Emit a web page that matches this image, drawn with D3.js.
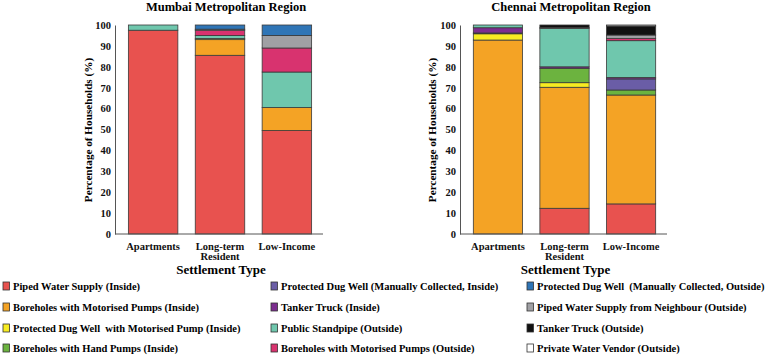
<!DOCTYPE html>
<html>
<head>
<meta charset="utf-8">
<script src="https://cdn.jsdelivr.net/npm/d3@7"></script>
<style>
  body { margin: 0; background: #fff; }
  svg { font-family: "Liberation Serif", "Times New Roman", serif; font-weight: bold; }
</style>
</head>
<body>
<svg id="chart" width="766" height="356"></svg>
<script>
const categories = ['Apartments', 'Long-term Resident', 'Low-Income']

const sources = [
    'Piped Water Supply (Inside)',
    'Boreholes with Motorised Pumps (Inside)',
    'Protected Dug Well  with Motorised Pump (Inside)',
    'Boreholes with Hand Pumps (Inside)',
    'Protected Dug Well (Manually Collected, Inside)',
    'Tanker Truck (Inside)',
    'Public Standpipe (Outside)',
    'Boreholes with Motorised Pumps (Outside)',
    'Protected Dug Well  (Manually Collected, Outside)',
    'Piped Water Supply from Neighbour (Outside)',
    'Tanker Truck (Outside)',
    'Private Water Vendor (Outside)'
]

const colours = [
    '#e8524f', '#f4a325', '#f7ec22', '#6cb33f', '#6a5da6', '#7c2e8f',
    '#6fc7ad', '#d8336f', '#2f75b6', '#a0a0a4', '#111111', '#ffffff'
]

// stacking order, bottom to top
const stackOrder = [0, 1, 2, 3, 4, 5, 6, 7, 9, 8, 10, 11]

// % of households, one row per source, columns follow categories
const mumbai = [
    [97.5, 85.5, 49.5],
    [0, 7.5, 11],
    [0, 0.5, 0],
    [0, 0, 0],
    [0, 0, 0],
    [0, 0, 0],
    [2.5, 1.5, 17],
    [0, 2.5, 11.5],
    [0, 2.0, 5],
    [0, 0.5, 6],
    [0, 0, 0],
    [0, 0, 0]
]

const chennai = [
    [0, 12.3, 14.4],
    [92.8, 57.9, 52.1],
    [3, 2.2, 0],
    [0.4, 6.9, 2.4],
    [0, 0, 5.3],
    [2.5, 0.7, 0.7],
    [1.3, 18.3, 17.6],
    [0, 0, 1.1],
    [0, 0, 0],
    [0, 0.5, 1.6],
    [0, 1.2, 4.3],
    [0, 0, 0.5]
]

const yTicks = [0, 10, 20, 30, 40, 50, 60, 70, 80, 90, 100]

const svg = d3.select('#chart')

const drawPanel = ({ values, title, left, width, titleX, yLabelX }) => {
    const top = 25
    const height = 209
    const chart = svg.append('g').attr('transform', `translate(${left}, ${top})`)

    const rows = categories.map((c, ci) => {
        const row = { category: c }
        sources.forEach((s, si) => { row[si] = values[si][ci] })
        return row
    })

    const stack = d3.stack().keys(stackOrder)(rows)

    const x = d3.scaleBand()
        .domain(categories)
        .range([2, width])
        .paddingInner(0.26)
        .paddingOuter(0.17)

    const y = d3.scaleLinear().domain([0, 100]).range([height, 0])

    chart.selectAll('g.layer')
        .data(stack)
        .join('g')
        .attr('class', 'layer')
        .attr('fill', d => colours[d.key])
        .selectAll('rect')
        .data(d => d.filter(p => p[1] - p[0] > 0))
        .join('rect')
        .attr('x', d => x(d.data.category))
        .attr('width', x.bandwidth())
        .attr('y', d => y(d[1]))
        .attr('height', d => y(d[0]) - y(d[1]))
        .attr('stroke', '#3a3a3a')
        .attr('stroke-width', 0.8)

    chart.append('g')
        .call(d3.axisLeft(y).tickValues(yTicks).tickSize(0).tickPadding(4))
        .attr('font-family', null)
        .attr('font-size', null)
        .call(g => g.select('.domain').attr('stroke', '#555'))
        .call(g => g.selectAll('text')
            .attr('fill', '#111')
            .style('font-size', '10.5px'))

    chart.append('line')
        .attr('x1', 0).attr('x2', width)
        .attr('y1', height).attr('y2', height)
        .attr('stroke', '#555')

    const xAxis = chart.append('g').attr('transform', `translate(0, ${height})`)
    categories.forEach(c => {
        const words = c === 'Long-term Resident' ? ['Long-term', 'Resident'] : [c]
        const t = xAxis.append('text')
            .attr('x', x(c) + x.bandwidth() / 2)
            .attr('y', 15.5)
            .attr('text-anchor', 'middle')
            .attr('fill', '#111')
            .style('font-size', '10.5px')
        words.forEach((w, i) => {
            t.append('tspan')
                .attr('x', x(c) + x.bandwidth() / 2)
                .attr('dy', i === 0 ? 0 : 10.5)
                .text(w)
        })
    })

    svg.append('text')
        .attr('x', titleX)
        .attr('y', 11)
        .attr('text-anchor', 'middle')
        .style('font-size', '12.5px')
        .text(title)

    svg.append('text')
        .attr('transform', `translate(${yLabelX}, ${top + height / 2 + 0.5}) rotate(-90)`)
        .attr('text-anchor', 'middle')
        .style('font-size', '11.2px')
        .text('Percentage of Households (%)')

    svg.append('text')
        .attr('x', left + width / 2 + 2)
        .attr('y', 273.5)
        .attr('text-anchor', 'middle')
        .style('font-size', '13px')
        .text('Settlement Type')
}

drawPanel({ values: mumbai, title: 'Mumbai Metropolitan Region', left: 115, width: 208, titleX: 226, yLabelX: 92 })
drawPanel({ values: chennai, title: 'Chennai Metropolitan Region', left: 460, width: 207, titleX: 571, yLabelX: 436 })

// legend: four rows per column
const legendCols = [3, 271, 527]
const legendRows = [286, 307, 328, 348]

const legend = svg.append('g')
sources.forEach((s, i) => {
    const cx = legendCols[Math.floor(i / 4)]
    const cy = legendRows[i % 4]
    legend.append('rect')
        .attr('x', cx)
        .attr('y', cy - 4)
        .attr('width', 6.5)
        .attr('height', 8)
        .attr('fill', colours[i])
        .attr('stroke', '#333')
        .attr('stroke-width', 0.8)
    legend.append('text')
        .attr('x', cx + 10)
        .attr('y', cy + 3.5)
        .style('font-size', '10.5px')
        .style('white-space', 'pre')
        .text(s)
})
</script>
</body>
</html>
